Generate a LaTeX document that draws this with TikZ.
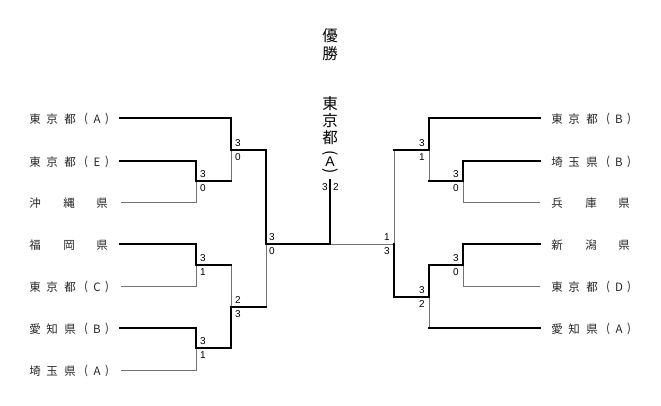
\documentclass[tikz,border=0pt]{standalone}
\usepackage{fontspec}
\setmainfont{Liberation Sans}
\newfontfamily\jpfont{Noto Sans CJK JP}
\begin{document}
\begin{tikzpicture}[x=1pt,y=-1pt,
  win/.style={line width=2.8pt,line join=miter,line cap=rect},
  lose/.style={line width=0.9pt,draw=black!55},
  jp/.style={inner sep=0pt,font=\jpfont\fontsize{11.5}{12}\selectfont,text=black!85},
  big/.style={inner sep=0pt,font=\jpfont\fontsize{15.5}{16}\selectfont},
  sc/.style={inner sep=0pt,font=\fontsize{10}{10}\selectfont}]
\useasboundingbox (0,0) rectangle (661,406);
\newcommand\labsix[9]{%
  \node[jp] (#1a) at (#2,#3) {#4};
  \node[jp] (#1b) at ({#2+17},#3) {#5};
  \node[jp] (#1c) at ({#2+35},#3) {#6};
  \node[jp] (#1d) at ({#2+51},#3) {#7};
  \node[jp] (#1e) at ({#2+62},#3) {#8};
  \node[jp] (#1f) at ({#2+72},#3) {#9};}
\newcommand\labthree[6]{%
  \node[jp] (#1a) at (#2,#3) {#4};
  \node[jp] (#1b) at ({#2+34},#3) {#5};
  \node[jp] (#1c) at ({#2+67},#3) {#6};}
% left labels
\labsix{L1}{35}{119}{東}{京}{都}{(}{A}{)}
\labsix{L2}{35}{162}{東}{京}{都}{(}{E}{)}
\labthree{L3}{35}{203}{沖}{縄}{県}
\labthree{L4}{35}{245}{福}{岡}{県}
\labsix{L5}{35}{287}{東}{京}{都}{(}{C}{)}
\labsix{L6}{35}{329}{愛}{知}{県}{(}{B}{)}
\labsix{L7}{35}{371}{埼}{玉}{県}{(}{A}{)}
% right labels
\labsix{R1}{557}{119}{東}{京}{都}{(}{B}{)}
\labsix{R2}{557}{162}{埼}{玉}{県}{(}{B}{)}
\labthree{R3}{557}{203}{兵}{庫}{県}
\labthree{R4}{557}{245}{新}{潟}{県}
\labsix{R5}{557}{287}{東}{京}{都}{(}{D}{)}
\labsix{R6}{557}{329}{愛}{知}{県}{(}{A}{)}
% champion
\node[big] (y1) at (330,36) {優};
\node[big] (y2) at (330,54) {勝};
\node[big] (c1) at (330,104) {東};
\node[big] (c2) at (330,121) {京};
\node[big] (c3) at (330,138) {都};
\node[big,rotate=-90] (c4) at (330,153) {(};
\node[inner sep=0pt,font=\fontsize{14}{14}\selectfont] (c5) at (330,162) {A};
\node[big,rotate=-90] (c6) at (330,171) {)};
% coordinates of bracket
\coordinate (a0) at (120,118); \coordinate (e0) at (120,161);
\coordinate (o0) at (121,202); \coordinate (f0) at (120,244);
\coordinate (t0) at (121,286); \coordinate (b0) at (120,328);
\coordinate (s0) at (121,370);
\coordinate (r1) at (540,118); \coordinate (r2) at (540,161);
\coordinate (r3) at (540,202); \coordinate (r4) at (540,244);
\coordinate (r5) at (540,286); \coordinate (r6) at (540,328);
\coordinate (top) at (330,180);
% left side
\draw[lose] (o0) -| (196,181);
\draw[lose] (231,181) -- (231,150);
\draw[lose] (t0) -| (196,265);
\draw[lose] (231,265) -- (231,307);
\draw[lose] (s0) -| (196,348);
\draw[lose] (266,307) -- (266,244);
\draw[lose] (330,244) -- (394,244);
\draw[win] (a0) -| (231,150) -| (266,244) -| (top);
\draw[win] (e0) -| (196,181) -- (231,181);
\draw[win] (f0) -| (196,265) -- (231,265);
\draw[win] (b0) -| (196,348) -| (231,307) -- (266,307);
% right side
\draw[lose] (394,150) -- (394,244);
\draw[lose] (429,181) -- (429,150);
\draw[lose] (r3) -| (463,181);
\draw[lose] (r5) -| (463,265);
\draw[lose] (429,328) -- (429,297);
\draw[win] (r1) -| (429,150) -- (394,150);
\draw[win] (r2) -| (463,181) -- (429,181);
\draw[win] (r4) -| (463,265) -| (429,297) -| (394,244);
\draw[win] (r6) -- (429,328);
% scores left
\node[sc] (s1) at (238,143) {3}; \node[sc] (s2) at (238,157) {0};
\node[sc] (s3) at (203,174) {3}; \node[sc] (s4) at (203,188) {0};
\node[sc] (s5) at (203,258) {3}; \node[sc] (s6) at (203,272) {1};
\node[sc] (s7) at (203,341) {3}; \node[sc] (s8) at (203,355) {1};
\node[sc] (s9) at (238,300) {2}; \node[sc] (s10) at (238,314) {3};
\node[sc] (s11) at (272,237) {3}; \node[sc] (s12) at (272,251) {0};
% scores right
\node[sc] (t1) at (422,143) {3}; \node[sc] (t2) at (422,157) {1};
\node[sc] (t3) at (456,174) {3}; \node[sc] (t4) at (456,188) {0};
\node[sc] (t5) at (456,258) {3}; \node[sc] (t6) at (456,272) {0};
\node[sc] (t7) at (422,290) {3}; \node[sc] (t8) at (422,304) {2};
\node[sc] (t9) at (387,237) {1}; \node[sc] (t10) at (387,251) {3};
% final
\node[sc] (f1) at (325,187) {3}; \node[sc] (f2) at (336,187) {2};
\end{tikzpicture}
\end{document}
